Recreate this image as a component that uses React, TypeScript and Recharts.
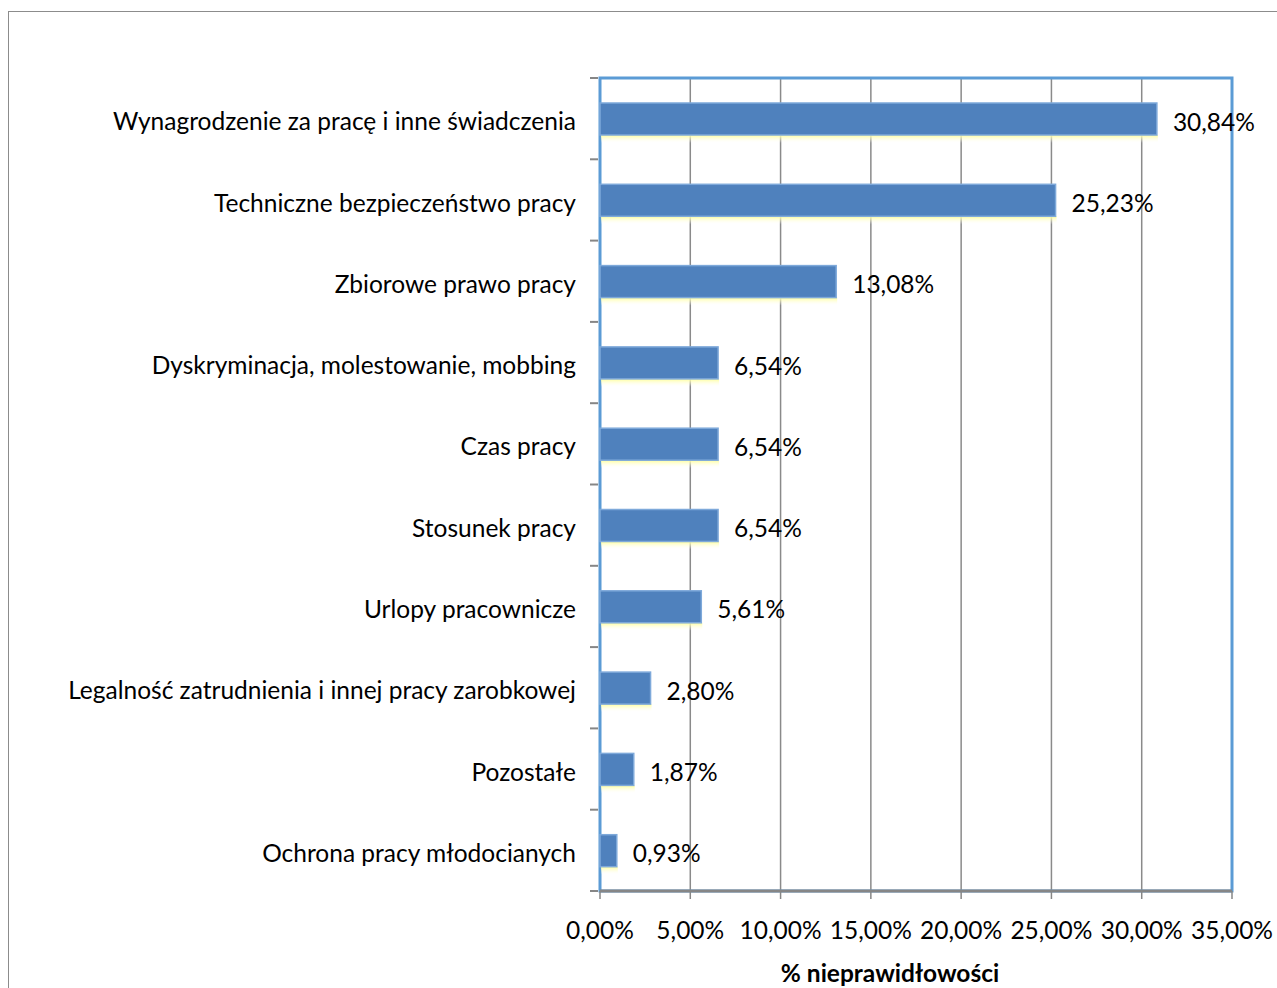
import React from "react";
import { BarChart, Bar, XAxis, YAxis, CartesianGrid, LabelList, ReferenceArea } from "recharts";

const categories = [
  "Wynagrodzenie za pracę i inne świadczenia",
  "Techniczne bezpieczeństwo pracy",
  "Zbiorowe prawo pracy",
  "Dyskryminacja, molestowanie, mobbing",
  "Czas pracy",
  "Stosunek pracy",
  "Urlopy pracownicze",
  "Legalność zatrudnienia i innej pracy zarobkowej",
  "Pozostałe",
  "Ochrona pracy młodocianych",
];
const values = [30.84, 25.23, 13.08, 6.54, 6.54, 6.54, 5.61, 2.8, 1.87, 0.93];
const xTicks = [0, 5, 10, 15, 20, 25, 30, 35];
const axisTitle = "% nieprawidłowości";

const data = categories.map((c, i) => ({ name: c, value: values[i] }));

const FONT = "Lato, 'Open Sans', sans-serif";
const FS = 24.5;
const fmt = (v: number) => v.toFixed(2).replace(".", ",") + "%";

const BarShape = (props: any) => {
  const { x, y, width, height } = props;
  if (!width || width <= 0) return null;
  return (
    <g>
      <rect x={x + 1} y={y + height} width={width} height={8} fill="url(#glow)" />
      <rect x={x} y={y} width={width} height={height} fill="#4F81BD" stroke="#7EA9DA" strokeWidth={1.5} />
    </g>
  );
};

const CatTick = (props: any) => {
  const { x, y, payload, index, visibleTicksCount } = props;
  const half = payload && payload.offset ? payload.offset : 0;
  const lineX = x + 16;
  return (
    <g>
      <line x1={lineX - 8} x2={lineX} y1={y - half} y2={y - half} stroke="#868686" strokeWidth={2} />
      {index === visibleTicksCount - 1 ? (
        <line x1={lineX - 8} x2={lineX} y1={y + half} y2={y + half} stroke="#868686" strokeWidth={2} />
      ) : null}
      <text
        x={x - 6}
        y={y}
        dy={FS * 0.35 + 3}
        textAnchor="end"
        fill="#000"
        fontSize={FS}
        fontFamily={FONT}
      >
        {payload.value}
      </text>
    </g>
  );
};

export default function App() {
  return (
    <div style={{ position: "relative", width: 1277, height: 988, overflow: "hidden" }}>
      <style>{"html,body{margin:0;padding:0;overflow:hidden}"}</style>
      <div
        style={{
          position: "absolute",
          left: 8,
          top: 11,
          width: 1300,
          height: 1000,
          borderLeft: "1.5px solid #8c8c8c",
          borderTop: "1.5px solid #8c8c8c",
        }}
      />
      <div style={{ position: "absolute", left: 8, top: 8 }}>
        <BarChart
          width={1269}
          height={980}
          data={data}
          layout="vertical"
          margin={{ top: 70, right: 45, left: 0, bottom: 0 }}
          barCategoryGap="60%"
        >
          <defs>
            <linearGradient id="glow" x1="0" y1="0" x2="0" y2="1">
              <stop offset="0%" stopColor="#FFFF99" stopOpacity={1} />
              <stop offset="100%" stopColor="#FFFFFF" stopOpacity={0} />
            </linearGradient>
          </defs>
          <CartesianGrid horizontal={false} vertical={true} stroke="#8a8a8a" strokeWidth={1.5} />
          <ReferenceArea
            x1={0}
            x2={35}
            fill="none"
            stroke="#5B9BD5"
            strokeWidth={3}
            ifOverflow="visible"
          />
          <XAxis
            type="number"
            domain={[0, 35]}
            ticks={xTicks}
            height={97}
            tickSize={8}
            axisLine={{ stroke: "#868686", strokeWidth: 3 }}
            tickLine={{ stroke: "#868686", strokeWidth: 1.5 }}
            tick={{ fill: "#000", fontSize: FS, fontFamily: FONT, dy: 21 }}
            tickFormatter={(v: number) => fmt(v)}
            interval={0}
            label={{
              value: axisTitle,
              position: "insideBottom",
              offset: 0,
              dx: -26,
              dy: -6,
              style: { fill: "#000", fontSize: FS, fontWeight: 700, fontFamily: FONT },
            }}
          />
          <YAxis
            type="category"
            dataKey="name"
            width={592}
            axisLine={false}
            tickLine={false}
            tickSize={16}
            tick={<CatTick />}
            interval={0}
          />
          <Bar dataKey="value" isAnimationActive={false} barSize={32} shape={<BarShape />}>
            <LabelList
              dataKey="value"
              position="right"
              offset={16}
              formatter={(v: any) => fmt(Number(v))}
              style={{ fill: "#000", fontSize: FS, fontFamily: FONT, transform: "translateY(3px)" }}
            />
          </Bar>
        </BarChart>
      </div>
    </div>
  );
}
